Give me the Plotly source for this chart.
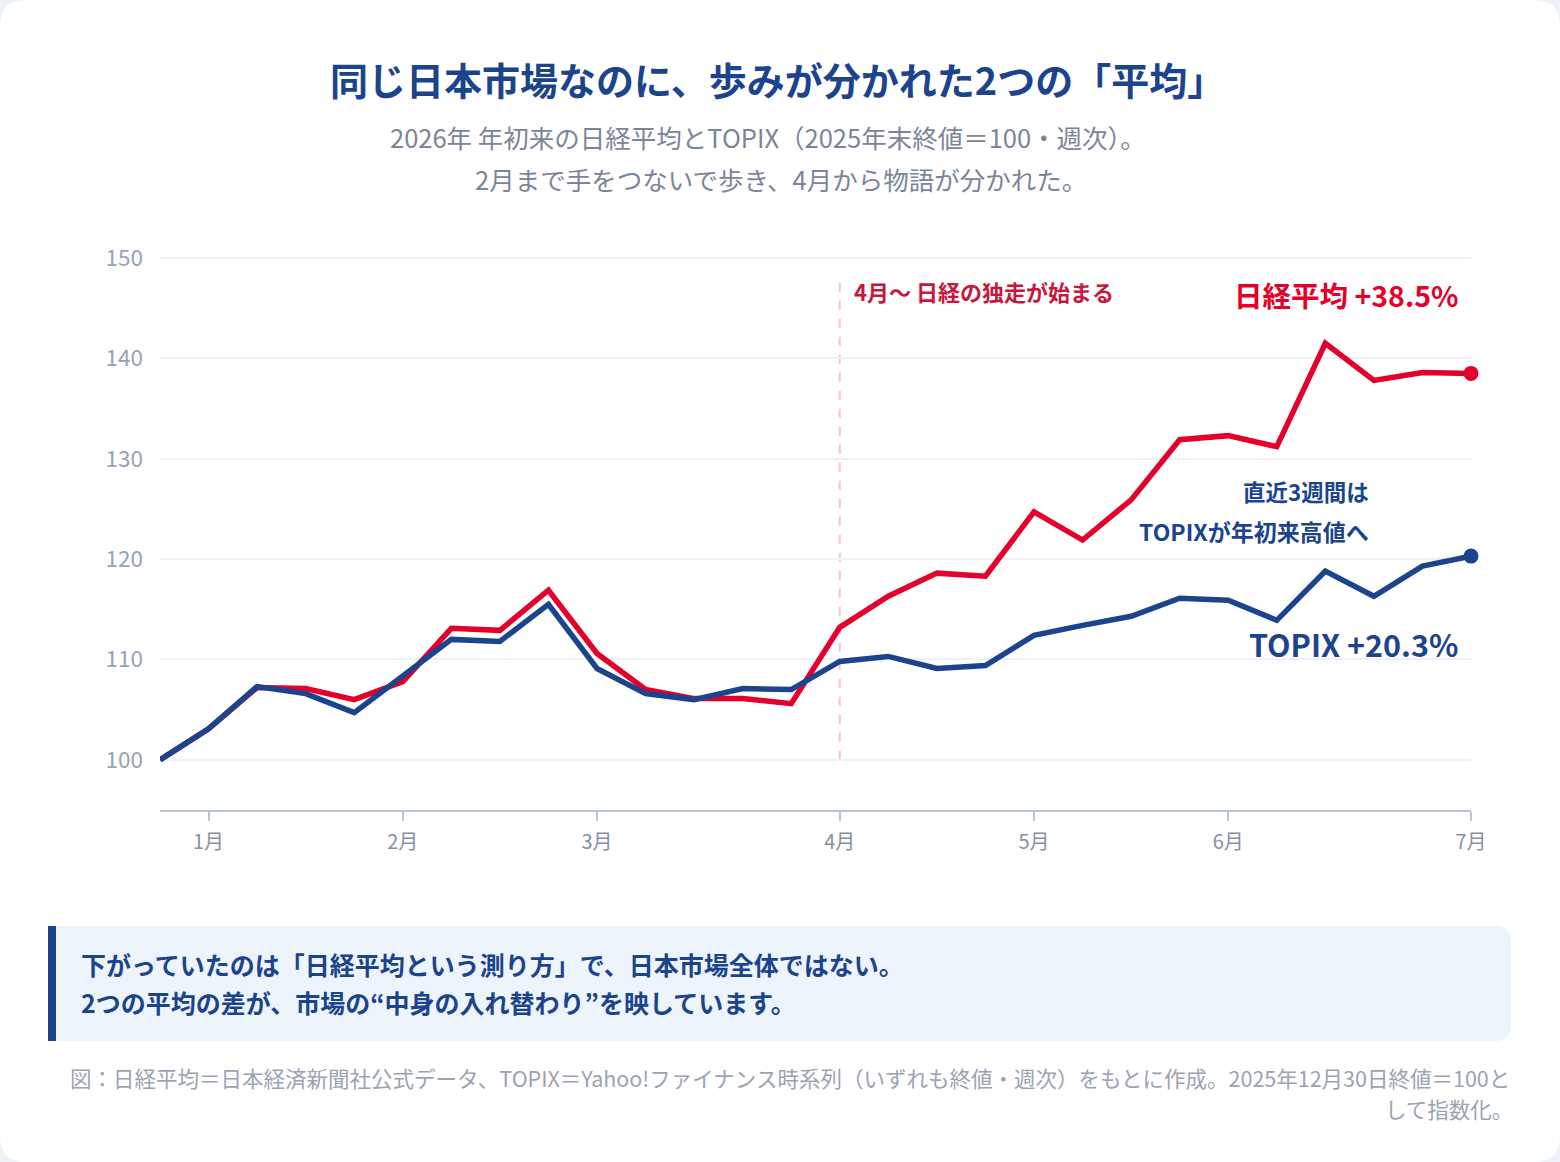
import plotly.graph_objects as go

# ---------------- data ----------------
week_index = list(range(28))
nikkei = [100.0, 103.1, 107.2, 107.1, 106.0, 107.8, 113.1, 112.9, 116.9, 110.6,
          107.0, 106.1, 106.1, 105.6, 113.2, 116.3, 118.6, 118.3, 124.7, 121.9,
          125.9, 131.9, 132.3, 131.2, 141.5, 137.8, 138.6, 138.5]
topix = [100.0, 103.1, 107.3, 106.6, 104.7, 108.4, 112.0, 111.8, 115.5, 109.1,
         106.6, 106.0, 107.1, 107.0, 109.8, 110.3, 109.1, 109.4, 112.4, 113.4,
         114.3, 116.1, 115.9, 113.9, 118.8, 116.3, 119.3, 120.3]
month_tick_idx = [1, 5, 9, 14, 18, 22, 27]
month_labels = ["1月", "2月", "3月", "4月", "5月", "6月", "7月"]
y_ticks = [100, 110, 120, 130, 140, 150]

RED = "#e4002b"
NAVY = "#1b448c"
GREY = "#7b8597"
FONT = "Noto Sans CJK JP"

W, H = 1560, 1162
L, R, T, B = 160, 1471, 256, 810
PW, PH = R - L, B - T


def px(x):
    return (x - L) / PW


def py(y):
    return (B - y) / PH


def rrect(x0, y0, x1, y1, r, left_round=True):
    # rounded rect in pixel coords -> paper path
    def p(x, y):
        return f"{px(x)},{py(y)}"
    if left_round:
        s = f"M {p(x0 + r, y0)} L {p(x1 - r, y0)} Q {p(x1, y0)} {p(x1, y0 + r)} "
        s += f"L {p(x1, y1 - r)} Q {p(x1, y1)} {p(x1 - r, y1)} L {p(x0 + r, y1)} "
        s += f"Q {p(x0, y1)} {p(x0, y1 - r)} L {p(x0, y0 + r)} Q {p(x0, y0)} {p(x0 + r, y0)} Z"
    else:
        s = f"M {p(x0, y0)} L {p(x1 - r, y0)} Q {p(x1, y0)} {p(x1, y0 + r)} "
        s += f"L {p(x1, y1 - r)} Q {p(x1, y1)} {p(x1 - r, y1)} L {p(x0, y1)} Z"
    return s


fig = go.Figure()
fig.add_trace(go.Scatter(x=week_index, y=nikkei, mode="lines", name="日経平均",
                         line=dict(color=RED, width=5.5), cliponaxis=False,
                         hoverinfo="skip"))
fig.add_trace(go.Scatter(x=week_index, y=topix, mode="lines", name="TOPIX",
                         line=dict(color=NAVY, width=5.5), cliponaxis=False,
                         hoverinfo="skip"))
fig.add_trace(go.Scatter(x=[week_index[-1]], y=[nikkei[-1]], mode="markers",
                         marker=dict(color=RED, size=15), cliponaxis=False,
                         hoverinfo="skip"))
fig.add_trace(go.Scatter(x=[week_index[-1]], y=[topix[-1]], mode="markers",
                         marker=dict(color=NAVY, size=15), cliponaxis=False,
                         hoverinfo="skip"))

shapes = [
    dict(type="path", xref="paper", yref="paper", path=rrect(0, 0, W, H, 26),
         fillcolor="white", line=dict(width=0), layer="below"),
    dict(type="path", xref="paper", yref="paper",
         path=rrect(48, 926, 1511, 1041, 16, left_round=False),
         fillcolor="#edf4fc", line=dict(width=0), layer="below"),
    dict(type="rect", xref="paper", yref="paper", x0=px(48), x1=px(56),
         y0=py(1041), y1=py(926), fillcolor=NAVY, line=dict(width=0), layer="below"),
    dict(type="line", xref="x", yref="y", x0=14, x1=14, y0=100, y1=148,
         line=dict(color="#f2c4cd", width=2, dash="dash"), layer="below"),
]

annotations = [
    dict(text="<b>同じ日本市場なのに、歩みが分かれた2つの「平均」</b>", x=px(777), y=py(78),
         font=dict(size=38, color=NAVY)),
    dict(text="2026年 年初来の日経平均とTOPIX（2025年末終値＝100・週次）。", x=px(768), y=py(136),
         font=dict(size=25.5, color=GREY)),
    dict(text="2月まで手をつないで歩き、4月から物語が分かれた。", x=px(781), y=py(178),
         font=dict(size=25.5, color=GREY)),
    dict(text="<b>4月〜 日経の独走が始まる</b>", x=px(852), y=py(291), xanchor="left",
         font=dict(size=22, color="#c8163c")),
    dict(text="<b>日経平均 +38.5%</b>", x=px(1460), y=py(294), xanchor="right",
         font=dict(size=28.5, color=RED)),
    dict(text="<b>直近3週間は</b>", x=px(1371), y=py(491), xanchor="right",
         font=dict(size=22.5, color=NAVY)),
    dict(text="<b>TOPIXが年初来高値へ</b>", x=px(1371), y=py(531), xanchor="right",
         font=dict(size=23, color=NAVY)),
    dict(text="<b>TOPIX +20.3%</b>", x=px(1460), y=py(644), xanchor="right",
         font=dict(size=30.5, color=NAVY)),
    dict(text="<b>下がっていたのは「日経平均という測り方」で、日本市場全体ではない。</b>",
         x=px(79), y=py(964), xanchor="left", font=dict(size=25, color=NAVY)),
    dict(text="<b>2つの平均の差が、市場の“中身の入れ替わり”を映しています。</b>",
         x=px(79), y=py(1002), xanchor="left", font=dict(size=25, color=NAVY)),
    dict(text="図：日経平均＝日本経済新聞社公式データ、TOPIX＝Yahoo!ファイナンス時系列（いずれも終値・週次）をもとに作成。2025年12月30日終値＝100と",
         x=px(1512), y=py(1077), xanchor="right", font=dict(size=21.5, color="#9aa3b3")),
    dict(text="して指数化。", x=px(1515), y=py(1108), xanchor="right",
         font=dict(size=21.5, color="#9aa3b3")),
]
for a in annotations:
    a.setdefault("xref", "paper")
    a.setdefault("yref", "paper")
    a.setdefault("xanchor", "center")
    a.setdefault("yanchor", "middle")
    a["showarrow"] = False

fig.update_layout(
    width=W, height=H,
    margin=dict(l=L, r=W - R, t=T, b=H - B, pad=0),
    paper_bgcolor="#edf2f8",
    plot_bgcolor="rgba(0,0,0,0)",
    font=dict(family=FONT, color=GREY),
    showlegend=False,
    shapes=shapes,
    annotations=annotations,
    xaxis=dict(range=[0, 27], tickmode="array", tickvals=month_tick_idx,
               ticktext=month_labels, showgrid=False, zeroline=False,
               showline=True, linecolor="#b9c5d6", linewidth=2,
               ticks="outside", ticklen=9, tickwidth=2, tickcolor="#b9c5d6",
               tickfont=dict(size=20, color="#8790a2"), ticklabelstandoff=4),
    yaxis=dict(range=[95, 150.2], tickmode="array", tickvals=y_ticks,
               showgrid=True, gridcolor="#eef1f7", gridwidth=2, zeroline=False,
               showline=False, ticks="", tickfont=dict(size=22.5, color="#98a2b3"),
               ticklabelstandoff=16),
)

fig.write_html("out.html")
